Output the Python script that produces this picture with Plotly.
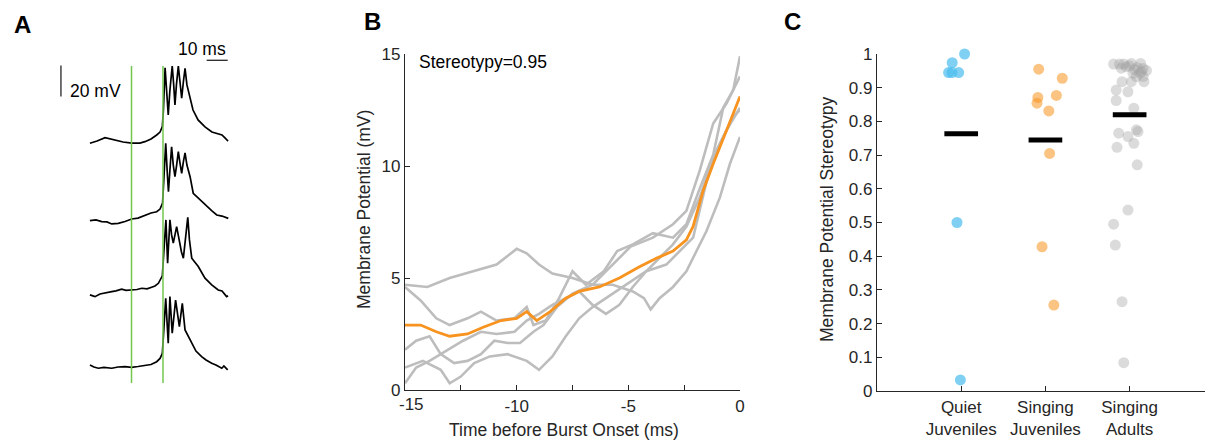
import numpy as np
import plotly.graph_objects as go

# target page is 1213x441; the html body adds an 8px margin, so the figure is 8px smaller each way
PAGE_W, PAGE_H = 1213, 441
BODY = 8
W, H = PAGE_W - BODY, PAGE_H - BODY

# ---------------- Panel A : example voltage traces (ms, mV relative to start) ----------------
a1_t = [-34.8, -31.4, -27.6, -25.2, -22.9, -19.0, -14.9, -11.0, -8.6, -5.7, -3.0, -1.4, -0.3, 0.2, 1.0, 1.8, 2.5, 3.3, 4.4, 5.1, 5.7, 6.4, 7.3, 8.1, 8.9, 9.7, 10.5, 11.4, 12.9, 14.3, 16.7, 20.0, 23.3, 26.2, 28.1, 29.5, 31.0]
a1_v = [-0.6, 0.8, 3.0, 2.1, 1.5, 0.2, -0.6, -0.5, 0.4, 2.1, 4.7, 6.6, 10.1, 20.8, 48.1, 33.7, 17.6, 33.7, 49.2, 37.0, 24.1, 37.0, 49.2, 38.9, 28.4, 38.9, 47.7, 37.0, 28.6, 20.8, 14.4, 9.9, 6.6, 5.4, 4.7, 2.8, 0.8]

a2_t = [-34.8, -31.9, -29.2, -26.7, -24.4, -21.3, -18.1, -14.9, -11.9, -8.6, -5.7, -3.0, -1.4, -0.2, 0.2, 1.3, 2.1, 2.6, 3.3, 4.1, 4.9, 5.7, 6.5, 7.3, 8.1, 8.9, 9.7, 10.5, 11.4, 12.9, 14.4, 17.6, 20.8, 23.3, 25.6, 28.1, 31.1]
a2_v = [0.0, 0.5, -0.6, -0.8, -2.1, -1.7, -0.5, 1.1, 1.7, 3.7, 5.0, 5.8, 7.5, 11.4, 23.0, 49.9, 29.5, 18.7, 32.7, 47.7, 35.9, 28.4, 35.9, 44.5, 37.2, 30.6, 37.9, 43.7, 35.9, 28.4, 17.7, 13.4, 9.0, 6.3, 3.7, 3.0, 1.5]

a3_t = [-34.8, -32.4, -30.0, -27.1, -24.4, -22.4, -19.7, -17.6, -14.9, -12.4, -10.1, -7.6, -5.4, -3.8, -2.2, -0.3, 0.3, 1.4, 2.2, 3.3, 4.1, 4.9, 6.5, 7.8, 8.8, 9.7, 10.7, 11.8, 12.6, 13.7, 16.8, 20.0, 23.2, 26.3, 28.1, 30.3, 31.0]
a3_v = [0.0, -1.1, 0.6, 1.6, 2.1, 2.6, 3.7, 2.9, 3.2, 3.5, 4.3, 3.9, 5.0, 5.8, 7.5, 12.3, 25.8, 48.4, 20.5, 48.4, 38.7, 33.4, 44.1, 33.5, 27.7, 23.7, 35.5, 50.1, 35.5, 23.7, 18.3, 10.8, 6.5, 3.2, 2.6, -1.1, -0.6]

a4_t = [-34.8, -32.9, -30.8, -28.1, -24.4, -21.4, -18.1, -14.9, -11.9, -8.6, -5.7, -3.0, -1.4, -0.3, 0.3, 1.3, 2.5, 3.3, 4.4, 6.0, 7.8, 9.2, 10.5, 11.9, 13.7, 15.7, 18.4, 20.5, 23.2, 25.2, 28.0, 29.0, 30.8]
a4_v = [0.0, -1.3, -2.1, -1.6, -2.1, -1.3, -1.1, -1.5, -1.0, -0.5, 0.3, 2.1, 4.2, 7.5, 22.6, 43.0, 14.0, 44.1, 20.5, 41.9, 24.7, 39.8, 22.6, 18.7, 14.0, 9.0, 5.4, 3.2, 1.1, 0.0, -2.1, -0.6, -3.2]

a_times = [a1_t, a2_t, a3_t, a4_t]
a_volts = [a1_v, a2_v, a3_v, a4_v]
a_green_t = [-15, 0]          # burst-onset window markers (ms)

# ---------------- Panel B : membrane potential before burst onset ----------------
b1_t = [-15, -14, -13, -11.9, -10.9, -10, -9.55, -9, -8.4, -7.5, -6.6, -5.7, -4.8, -4.3, -4.0, -3.6, -3.0, -2.4, -2.1, -1.5, -0.9, -0.45, 0]
b1_v = [4.7, 4.6, 5.0, 5.3, 5.6, 6.3, 6.1, 5.6, 5.2, 5.0, 4.7, 4.7, 4.4, 4.1, 3.6, 4.1, 4.6, 5.3, 5.9, 7.1, 8.6, 10.1, 11.3]

b2_t = [-15, -14.3, -13.6, -13, -12.2, -11.6, -10.9, -10.1, -9.55, -9.25, -8.7, -8.1, -7.5, -6.9, -6.1, -5.5, -4.8, -3.9, -3.0, -2.4, -1.8, -1.2, -0.75, -0.3, 0]
b2_v = [4.6, 4.0, 3.2, 2.9, 3.2, 3.5, 3.1, 3.2, 3.7, 2.9, 3.1, 4.1, 5.3, 4.7, 5.3, 6.2, 6.5, 7.0, 6.8, 7.4, 9.0, 10.5, 12.6, 13.4, 14.9]

b3_t = [-15, -14.5, -13.9, -13.4, -12.8, -12.2, -11.6, -11, -10.4, -9.85, -9.25, -8.8, -8.2, -7.5, -6.6, -5.7, -4.9, -3.9, -3.0, -2.4, -1.8, -1.2, -0.6, 0]
b3_v = [1.8, 2.2, 2.4, 1.6, 1.2, 1.3, 1.6, 2.2, 2.1, 2.1, 2.6, 2.9, 3.7, 4.3, 4.7, 5.6, 6.4, 6.8, 7.4, 8.0, 9.8, 11.9, 12.8, 14.0]

b4_t = [-15, -14.2, -13.4, -13, -12.5, -11.9, -11.2, -10.4, -9.55, -9, -8.4, -7.8, -7.2, -6.6, -6.0, -5.1, -4.2, -3.3, -2.7, -2.1, -1.5, -0.9, -0.3, 0]
b4_v = [1.0, 1.3, 0.9, 0.3, 0.6, 1.2, 1.5, 1.6, 1.3, 0.9, 1.5, 2.4, 3.2, 3.7, 4.1, 4.7, 5.3, 5.6, 6.2, 6.8, 9.3, 11.0, 12.2, 12.5]

b5_t = [-15, -14.5, -13.9, -13.1, -12.4, -11.6, -10.9, -10.1, -9.55, -9, -8.4, -7.8, -7.2, -6.6, -6.0, -5.4, -4.8, -4.2, -3.6, -3.0, -2.4, -1.8, -1.2, -0.6, 0]
b5_v = [0.3, 1.0, 1.3, 1.8, 2.2, 2.6, 2.5, 2.6, 3.1, 3.4, 3.8, 4.1, 4.4, 3.8, 3.4, 3.8, 4.6, 5.3, 5.9, 6.5, 7.3, 8.6, 10.4, 11.6, 12.6]

bm_t = [-15, -14.3, -13.6, -13, -12.2, -11.5, -10.7, -10, -9.55, -9.1, -8.5, -7.8, -7.2, -6.3, -5.4, -4.5, -3.7, -3.0, -2.4, -2.1, -1.65, -1.2, -0.6, 0]
bm_v = [2.9, 2.9, 2.6, 2.4, 2.5, 2.8, 3.1, 3.2, 3.5, 3.1, 3.5, 4.1, 4.4, 4.6, 5.0, 5.5, 5.9, 6.2, 6.7, 7.3, 8.9, 10.1, 11.6, 13.1]

b_gray_t = [b1_t, b2_t, b3_t, b4_t, b5_t]
b_gray_v = [b1_v, b2_v, b3_v, b4_v, b5_v]
b_label = "Stereotypy=0.95"
b_xticks = [-15, -12.5, -10, -7.5, -5, -2.5, 0]
b_xlabels = ["-15", "", "-10", "", "-5", "", "0"]
b_yticks = [0, 5, 10, 15]

# ---------------- Panel C : stereotypy per group ----------------
c_categories = ["Quiet<br>Juveniles", "Singing<br>Juveniles", "Singing<br>Adults"]
quiet_y = [1.0, 0.974, 0.945, 0.945, 0.945, 0.50, 0.033]
quiet_jit = [0.04, -0.107, -0.15, -0.11, -0.03, -0.05, -0.01]

singj_y = [0.955, 0.928, 0.871, 0.854, 0.877, 0.831, 0.705, 0.428, 0.255]
singj_jit = [-0.08, 0.20, -0.09, -0.10, 0.13, 0.04, 0.05, -0.04, 0.10]

adult_y = [0.970, 0.970, 0.970, 0.972, 0.972, 0.962, 0.954, 0.957, 0.951, 0.943, 0.943, 0.933, 0.933,
           0.918, 0.918, 0.918, 0.893, 0.888, 0.862, 0.839, 0.765, 0.775, 0.770, 0.755, 0.723, 0.735,
           0.671, 0.537, 0.495, 0.433, 0.265, 0.084, 0.965, 0.960, 0.958, 0.948]
adult_jit = [-0.19, -0.12, -0.07, 0.02, 0.13, -0.04, 0.06, 0.16, 0.20, 0.04, 0.12, 0.08, 0.16,
             -0.09, 0.02, 0.17, -0.16, -0.02, -0.16, 0.05, -0.13, 0.08, 0.10, -0.02, -0.15, 0.05,
             0.09, -0.02, -0.19, -0.17, -0.09, -0.07, 0.00, 0.09, -0.10, 0.14]
c_yticks = [round(0.1 * k, 1) for k in range(11)]
c_ylabels = ["0", "0.1", "0.2", "0.3", "0.4", "0.5", "0.6", "0.7", "0.8", "0.9", "1"]

# ---------------- styling / layout constants ----------------
FONT = "Liberation Sans, Arial, Helvetica, sans-serif"
AX = "#262626"
TICK_SIZE = 17
TXT_SIZE = 17.5
a_offsets = [0, -50.6, -98.5, -143.7]   # vertical stacking of the traces in panel A


def xd(a, b):
    return [(a - BODY) / W, (b - BODY) / W]


def yd(top, bottom):
    return [1 - (bottom - BODY) / H, 1 - (top - BODY) / H]


def px(x):
    return (x - BODY) / W


def py(y):
    return 1 - (y - BODY) / H


fig = go.Figure()

# Panel A
for t, v, off in zip(a_times, a_volts, a_offsets):
    fig.add_trace(go.Scatter(x=t, y=[vv + off for vv in v], mode="lines",
                             line=dict(color="black", width=1.7), xaxis="x", yaxis="y",
                             showlegend=False, hoverinfo="skip"))
for gt in a_green_t:
    fig.add_trace(go.Scatter(x=[gt, gt], y=[49.2, -155.3], mode="lines",
                             line=dict(color="#72C84E", width=1.5), xaxis="x", yaxis="y",
                             showlegend=False, hoverinfo="skip"))
# scale bars: 20 mV and 10 ms
fig.add_trace(go.Scatter(x=[-48.6, -48.6], y=[49.5, 29.5], mode="lines",
                         line=dict(color=AX, width=1.3), xaxis="x", yaxis="y", showlegend=False))
fig.add_trace(go.Scatter(x=[20.8, 30.8], y=[52.9, 52.9], mode="lines",
                         line=dict(color=AX, width=1.3), xaxis="x", yaxis="y", showlegend=False))

# Panel B
for t, v in zip(b_gray_t, b_gray_v):
    fig.add_trace(go.Scatter(x=t, y=v, mode="lines", line=dict(color="#BDBDBD", width=2.6),
                             xaxis="x2", yaxis="y2", showlegend=False))
fig.add_trace(go.Scatter(x=bm_t, y=bm_v, mode="lines", line=dict(color="#F7931E", width=2.8),
                         xaxis="x2", yaxis="y2", showlegend=False))

# Panel C
groups = [(quiet_y, quiet_jit, "#4DBEEE", 0.72),
          (singj_y, singj_jit, "#F7931E", 0.55),
          (adult_y, adult_jit, "#A0A0A0", 0.38)]
for i, (ys, jit, col, op) in enumerate(groups):
    pos = i + 1
    fig.add_trace(go.Scatter(x=[pos + j for j in jit], y=ys, mode="markers",
                             marker=dict(color=col, size=11, opacity=op, line=dict(width=0)),
                             xaxis="x3", yaxis="y3", showlegend=False, cliponaxis=False))
for i, (ys, jit, col, op) in enumerate(groups):
    pos = i + 1
    m = float(np.mean(ys))
    fig.add_trace(go.Scatter(x=[pos - 0.2, pos + 0.2], y=[m, m], mode="lines",
                             line=dict(color="black", width=5), xaxis="x3", yaxis="y3",
                             showlegend=False))

axis_common = dict(showgrid=False, zeroline=False, showline=True, linecolor=AX, linewidth=1.2,
                   ticks="inside", ticklen=5, tickwidth=1.2, tickcolor=AX,
                   tickfont=dict(family=FONT, size=TICK_SIZE, color=AX), automargin=False)

# first x label of panel B is nudged right (as in the reference) so it clears the y "0" label
b_xlabels_axis = [""] + b_xlabels[1:]

fig.update_layout(
    width=W, height=H, margin=dict(l=0, r=0, t=0, b=0),
    paper_bgcolor="white", plot_bgcolor="white", showlegend=False,
    font=dict(family=FONT, size=TICK_SIZE, color=AX),
    xaxis=dict(domain=xd(40, 240), range=[-58.57, 36.67], visible=False),
    yaxis=dict(domain=yd(40, 400), range=[-166.3, 66.0], visible=False),
    xaxis2=dict(domain=xd(405, 740), range=[-15, 0], anchor="y2",
                tickvals=b_xticks, ticktext=b_xlabels_axis, **axis_common),
    yaxis2=dict(domain=yd(54, 390), range=[0, 15], anchor="x2",
                tickvals=b_yticks, ticktext=[str(v) for v in b_yticks], **axis_common),
    xaxis3=dict(domain=xd(877, 1213), range=[0, 3.99], anchor="y3",
                tickvals=[1, 2, 3], ticktext=c_categories, **axis_common),
    yaxis3=dict(domain=yd(54, 391), range=[0, 1], anchor="x3",
                tickvals=c_yticks, ticktext=c_ylabels, **axis_common),
)

ann = []
for txt, x, y in [("A", 22, 24), ("B", 372, 22), ("C", 792, 22)]:
    ann.append(dict(text=f"<b>{txt}</b>", x=px(x), y=py(y), xref="paper", yref="paper",
                    showarrow=False, xanchor="center", yanchor="middle",
                    font=dict(family=FONT, size=24, color="black")))
ann.append(dict(text=b_xlabels[0], x=b_xticks[0], y=py(404), xref="x2", yref="paper",
                showarrow=False, xanchor="center", yanchor="middle", xshift=6,
                font=dict(family=FONT, size=TICK_SIZE, color=AX)))
ann.append(dict(text="20 mV", x=-45.2, y=33.1, xref="x", yref="y", showarrow=False,
                xanchor="left", yanchor="middle", font=dict(family=FONT, size=TXT_SIZE, color="black")))
ann.append(dict(text="10 ms", x=30.8, y=60.2, xref="x", yref="y", showarrow=False,
                xanchor="right", yanchor="middle", font=dict(family=FONT, size=TXT_SIZE, color="black")))
ann.append(dict(text=b_label, x=-14.46, y=14.63, xref="x2", yref="y2", showarrow=False,
                xanchor="left", yanchor="middle", font=dict(family=FONT, size=TXT_SIZE, color="black")))
ann.append(dict(text="Membrane Potential (mV)", x=px(364), y=py(210), xref="paper", yref="paper",
                showarrow=False, textangle=-90, xanchor="center", yanchor="middle",
                font=dict(family=FONT, size=TXT_SIZE, color=AX)))
ann.append(dict(text="Time before Burst Onset (ms)", x=px(564), y=py(430), xref="paper",
                yref="paper", showarrow=False, xanchor="center", yanchor="middle",
                font=dict(family=FONT, size=TXT_SIZE, color=AX)))
ann.append(dict(text="Membrane Potential Stereotypy", x=px(827), y=py(220), xref="paper",
                yref="paper", showarrow=False, textangle=-90, xanchor="center", yanchor="middle",
                font=dict(family=FONT, size=TXT_SIZE, color=AX)))
fig.update_layout(annotations=ann)

fig.write_html("out.html")
